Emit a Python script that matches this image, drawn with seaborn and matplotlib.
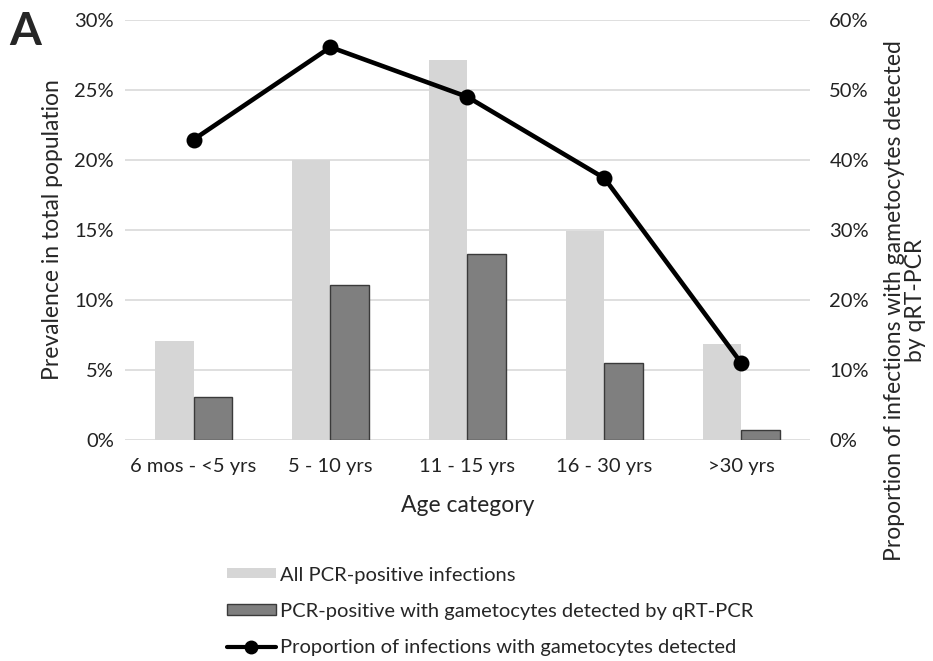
import pandas as pd
import matplotlib.pyplot as plt
import seaborn as sns
from matplotlib.patches import Patch
from matplotlib.lines import Line2D
from matplotlib.ticker import PercentFormatter

# Data
age_groups = ['6 mos - <5 yrs', '5 - 10 yrs', '11 - 15 yrs', '16 - 30 yrs', '>30 yrs']
all_pcr = [7.1, 20.0, 27.1, 14.9, 6.9]
pcr_gameto = [3.05, 11.1, 13.3, 5.5, 0.7]
prop_gameto = [42.9, 56.1, 49.0, 37.4, 11.0]

series_names = ['All PCR-positive infections',
                'PCR-positive with gametocytes detected by qRT-PCR']

df = pd.DataFrame({
    'age': age_groups * 2,
    'value': all_pcr + pcr_gameto,
    'series': [series_names[0]] * 5 + [series_names[1]] * 5,
})

sns.set_style('white')
plt.rcParams['font.family'] = ['Lato', 'DejaVu Sans']

fig = plt.figure(figsize=(9.33, 6.61), dpi=100)
ax = fig.add_axes([0.134, 0.334, 0.734, 0.636])

light = '#d6d6d6'
dark = '#7f7f7f'

sns.barplot(data=df, x='age', y='value', hue='series', order=age_groups,
            hue_order=series_names, palette=[light, dark], width=0.56,
            gap=0, ax=ax, legend=False, saturation=1)
for bar in ax.containers[1]:
    bar.set_edgecolor('#3a3a3a')
    bar.set_linewidth(1.0)
for bar in ax.containers[0]:
    bar.set_linewidth(0)

ax.set_ylim(0, 30)
ax.set_yticks(range(0, 31, 5))
ax.yaxis.set_major_formatter(PercentFormatter(decimals=0))
ax.grid(axis='y', color='#d9d9d9', linewidth=1.2)
ax.set_axisbelow(True)
for s in ax.spines.values():
    s.set_visible(False)
ax.tick_params(axis='y', length=0, labelsize=14.5, colors='#222222', pad=8)
ax.tick_params(axis='x', length=0, labelsize=14.5, colors='#222222', pad=13)
ax.set_xlabel('Age category', fontsize=16.5, labelpad=14)
ax.set_ylabel('Prevalence in total population', fontsize=16.5, labelpad=8)

# line on secondary axis
ax2 = ax.twinx()
sns.pointplot(x=age_groups, y=prop_gameto, color='black', markers='o',
              markersize=9, linewidth=3.3, errorbar=None, ax=ax2)
ax2.set_xlim(-0.5, 4.5)
ax2.set_ylim(0, 60)
ax2.set_yticks(range(0, 61, 10))
ax2.yaxis.set_major_formatter(PercentFormatter(decimals=0))
for s in ax2.spines.values():
    s.set_visible(False)
ax2.tick_params(axis='y', length=0, labelsize=14.5, colors='#222222', pad=14)
ax2.set_ylabel('Proportion of infections with gametocytes detected\nby qRT-PCR',
               fontsize=16.5, linespacing=1.0)
ax2.yaxis.set_label_coords(1.108, 0.333)
ax.set_xlim(-0.5, 4.5)

fig.text(0.010, 0.983, 'A', fontsize=33, fontweight='bold', va='top', ha='left')

handles = [
    Patch(facecolor=light, edgecolor='none'),
    Patch(facecolor=dark, edgecolor='#3a3a3a'),
    Line2D([0], [0], color='black', linewidth=3, marker='o', markersize=9),
]
labels = series_names + ['Proportion of infections with gametocytes detected']
fig.legend(handles, labels, loc='upper left', bbox_to_anchor=(0.235, 0.155),
           frameon=False, fontsize=14.5, labelspacing=0.95, handlelength=2.4,
           handleheight=0.4, handletextpad=0.2, borderaxespad=0)

fig.savefig('out.png', dpi=100)
